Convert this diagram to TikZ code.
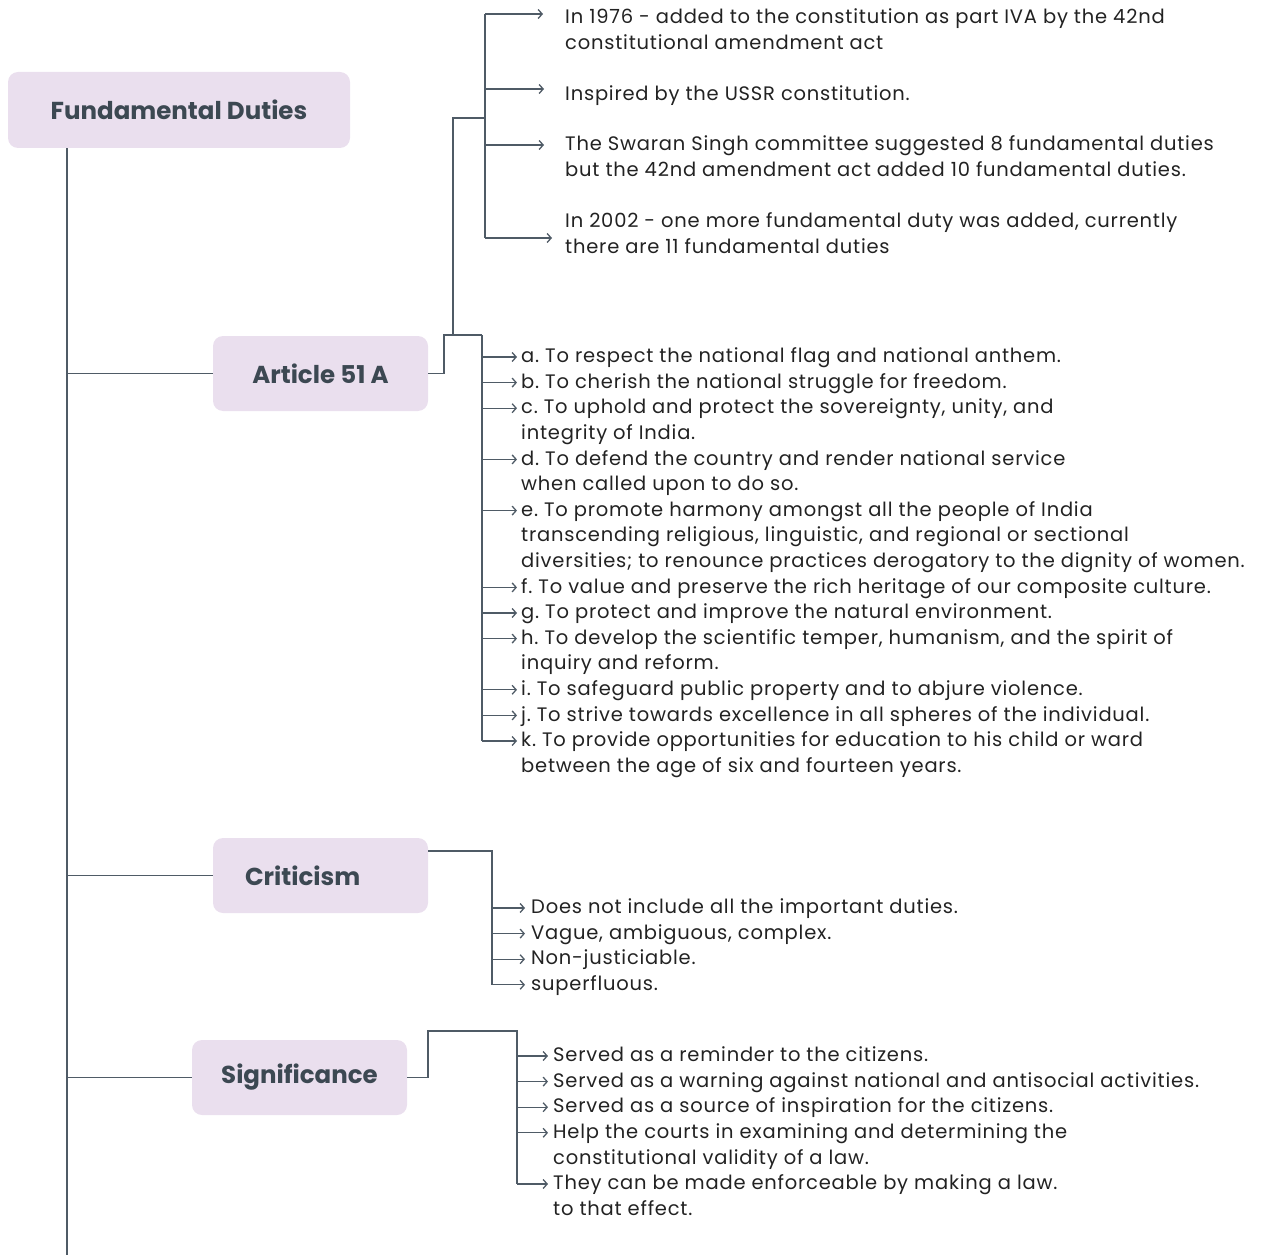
\documentclass[tikz,border=0pt]{standalone}
\usepackage{fontspec}
\setmainfont{Poppins}[LetterSpace=4]
\newfontfamily\headfont{Poppins}
\usetikzlibrary{arrows.meta,calc}
\definecolor{boxfill}{HTML}{EADFEE}
\definecolor{linecol}{HTML}{4F5B66}
\definecolor{headcol}{HTML}{3C4852}
\definecolor{txtcol}{HTML}{222222}

\begin{document}
\begin{tikzpicture}[x=1pt,y=-1pt]
  \tikzstyle{topic}=[rectangle,rounded corners=10pt,fill=boxfill,minimum height=75pt,inner ysep=0pt,text=headcol,font=\fontsize{24.5}{28}\headfont\bfseries]
  \tikzstyle{item}=[anchor=north west,inner sep=0pt,align=left,text=txtcol,font=\fontsize{19.5}{25.6}\selectfont\frenchspacing]
  \tikzstyle{link}=[draw=linecol,line width=1.3pt]
  \tikzstyle{arr}=[link,-{Straight Barb[length=4pt,width=9pt]}]
  \useasboundingbox (0,0) rectangle (1261,1257);

  % topic boxes
  \node (root) at (179,110) [topic,minimum height=76pt,minimum width=342pt] {Fundamental Duties};
  \node (art) at (320.5,373.5) [topic,minimum width=215pt] {Article 51 A};
  \node (crit) at (320.5,875.5) [topic,align=left,text width=151pt,inner xsep=32pt] {Criticism};
  \node (sig) at (299.5,1077.5) [topic,minimum width=215pt] {Significance};

  % trunk
  \coordinate (trunk) at (67,1255);
  \draw [link] (root.south -| trunk) -- (trunk);
  \draw [link] (art.west -| trunk) -- (art.west);
  \draw [link] (crit.west -| trunk) -- (crit.west);
  \draw [link] (sig.west -| trunk) -- (sig.west);

  % Article 51 A: history
  \node (t1) at (565,5.5) [item] {\strut In 1976 - added to the constitution as part IVA by the 42nd\\constitutional amendment act};
  \node (t2) at (565,82.5) [item] {\strut Inspired by the USSR constitution.};
  \node (t3) at (565,132.5) [item] {\strut The Swaran Singh committee suggested 8 fundamental duties\\but the 42nd amendment act added 10 fundamental duties.};
  \node (t4) at (565,209.5) [item] {\strut In 2002 - one more fundamental duty was added, currently\\there are 11 fundamental duties};

  \coordinate (astep) at (444,335);
  \coordinate (tjoin) at (453,335);
  \coordinate (tcorner) at (453,118);
  \coordinate (tspine) at (485,118);
  \coordinate (aspine) at (482,335);

  \draw [link] (art.east) -| (astep) -- (aspine);
  \draw [link] (tjoin) -- (tcorner) -- (tspine);
  \draw [link] ($(tspine |- t1.north)+(0,8.5)$) -- ($(tspine |- t4.north)+(0,28.5)$);
  \draw [arr] ($(tspine |- t1.north)+(0,8.5)$) -- ($(t1.north west)+(-22,8.5)$);
  \draw [arr] ($(tspine |- t2.north)+(0,6.5)$) -- ($(t2.north west)+(-21,6.5)$);
  \draw [arr] ($(tspine |- t3.north)+(0,12.5)$) -- ($(t3.north west)+(-21,12.5)$);
  \draw [arr] ($(tspine |- t4.north)+(0,28.5)$) -- ($(t4.north west)+(-13,28.5)$);

  % Article 51 A: the duties
  \node (a) at (521,344.5) [item] {\strut a. To respect the national flag and national anthem.};
  \node (b) at (521,370.1) [item] {\strut b. To cherish the national struggle for freedom.};
  \node (c) at (521,395.7) [item] {\strut c. To uphold and protect the sovereignty, unity, and\\integrity of India.};
  \node (d) at (521,446.9) [item] {\strut d. To defend the country and render national service\\when called upon to do so.};
  \node (e) at (521,498.1) [item] {\strut e. To promote harmony amongst all the people of India\\transcending religious, linguistic, and regional or sectional\\diversities; to renounce practices derogatory to the dignity of women.};
  \node (f) at (521,574.9) [item] {\strut f. To value and preserve the rich heritage of our composite culture.};
  \node (g) at (521,600.5) [item] {\strut g. To protect and improve the natural environment.};
  \node (h) at (521,626.1) [item] {\strut h. To develop the scientific temper, humanism, and the spirit of\\inquiry and reform.};
  \node (i) at (521,677.3) [item] {\strut i. To safeguard public property and to abjure violence.};
  \node (j) at (521,702.9) [item] {\strut j. To strive towards excellence in all spheres of the individual.};
  \node (k) at (521,728.5) [item] {\strut k. To provide opportunities for education to his child or ward\\between the age of six and fourteen years.};

  \draw [link] (aspine) -- ($(aspine |- k.north)+(0,12.5)$);
  \foreach \n in {a,b,c,d,e,f,g,h,i,j,k}
    \draw [arr] ($(aspine |- \n.north)+(0,12.5)$) -- ($(\n.north west)+(-4,12.5)$);

  % Criticism
  \node (c1) at (531,895.5) [item] {\strut Does not include all the important duties.};
  \node (c2) at (531,921.1) [item] {\strut Vague, ambiguous, complex.};
  \node (c3) at (531,946.7) [item] {\strut Non-justiciable.};
  \node (c4) at (531,972.3) [item] {\strut superfluous.};

  \coordinate (cspine) at (492,851);
  \draw [link] (crit.east |- cspine) -- (cspine) -- ($(cspine |- c4.north)+(0,12.5)$);
  \foreach \n in {c1,c2,c3,c4}
    \draw [arr] ($(cspine |- \n.north)+(0,12.5)$) -- ($(\n.north west)+(-6,12.5)$);

  % Significance
  \node (s1) at (553,1043.5) [item] {\strut Served as a reminder to the citizens.};
  \node (s2) at (553,1069.1) [item] {\strut Served as a warning against national and antisocial activities.};
  \node (s3) at (553,1094.7) [item] {\strut Served as a source of inspiration for the citizens.};
  \node (s4) at (553,1120.3) [item] {\strut Help the courts in examining and determining the\\constitutional validity of a law.};
  \node (s5) at (553,1171.5) [item] {\strut They can be made enforceable by making a law.\\to that effect.};

  \coordinate (sstep) at (428,1031);
  \coordinate (sspine) at (517,1031);
  \draw [link] (sig.east) -| (sstep) -- (sspine) -- ($(sspine |- s5.north)+(0,12.5)$);
  \foreach \n in {s1,s2,s3,s4,s5}
    \draw [arr] ($(sspine |- \n.north)+(0,12.5)$) -- ($(\n.north west)+(-5,12.5)$);
\end{tikzpicture}
\end{document}
